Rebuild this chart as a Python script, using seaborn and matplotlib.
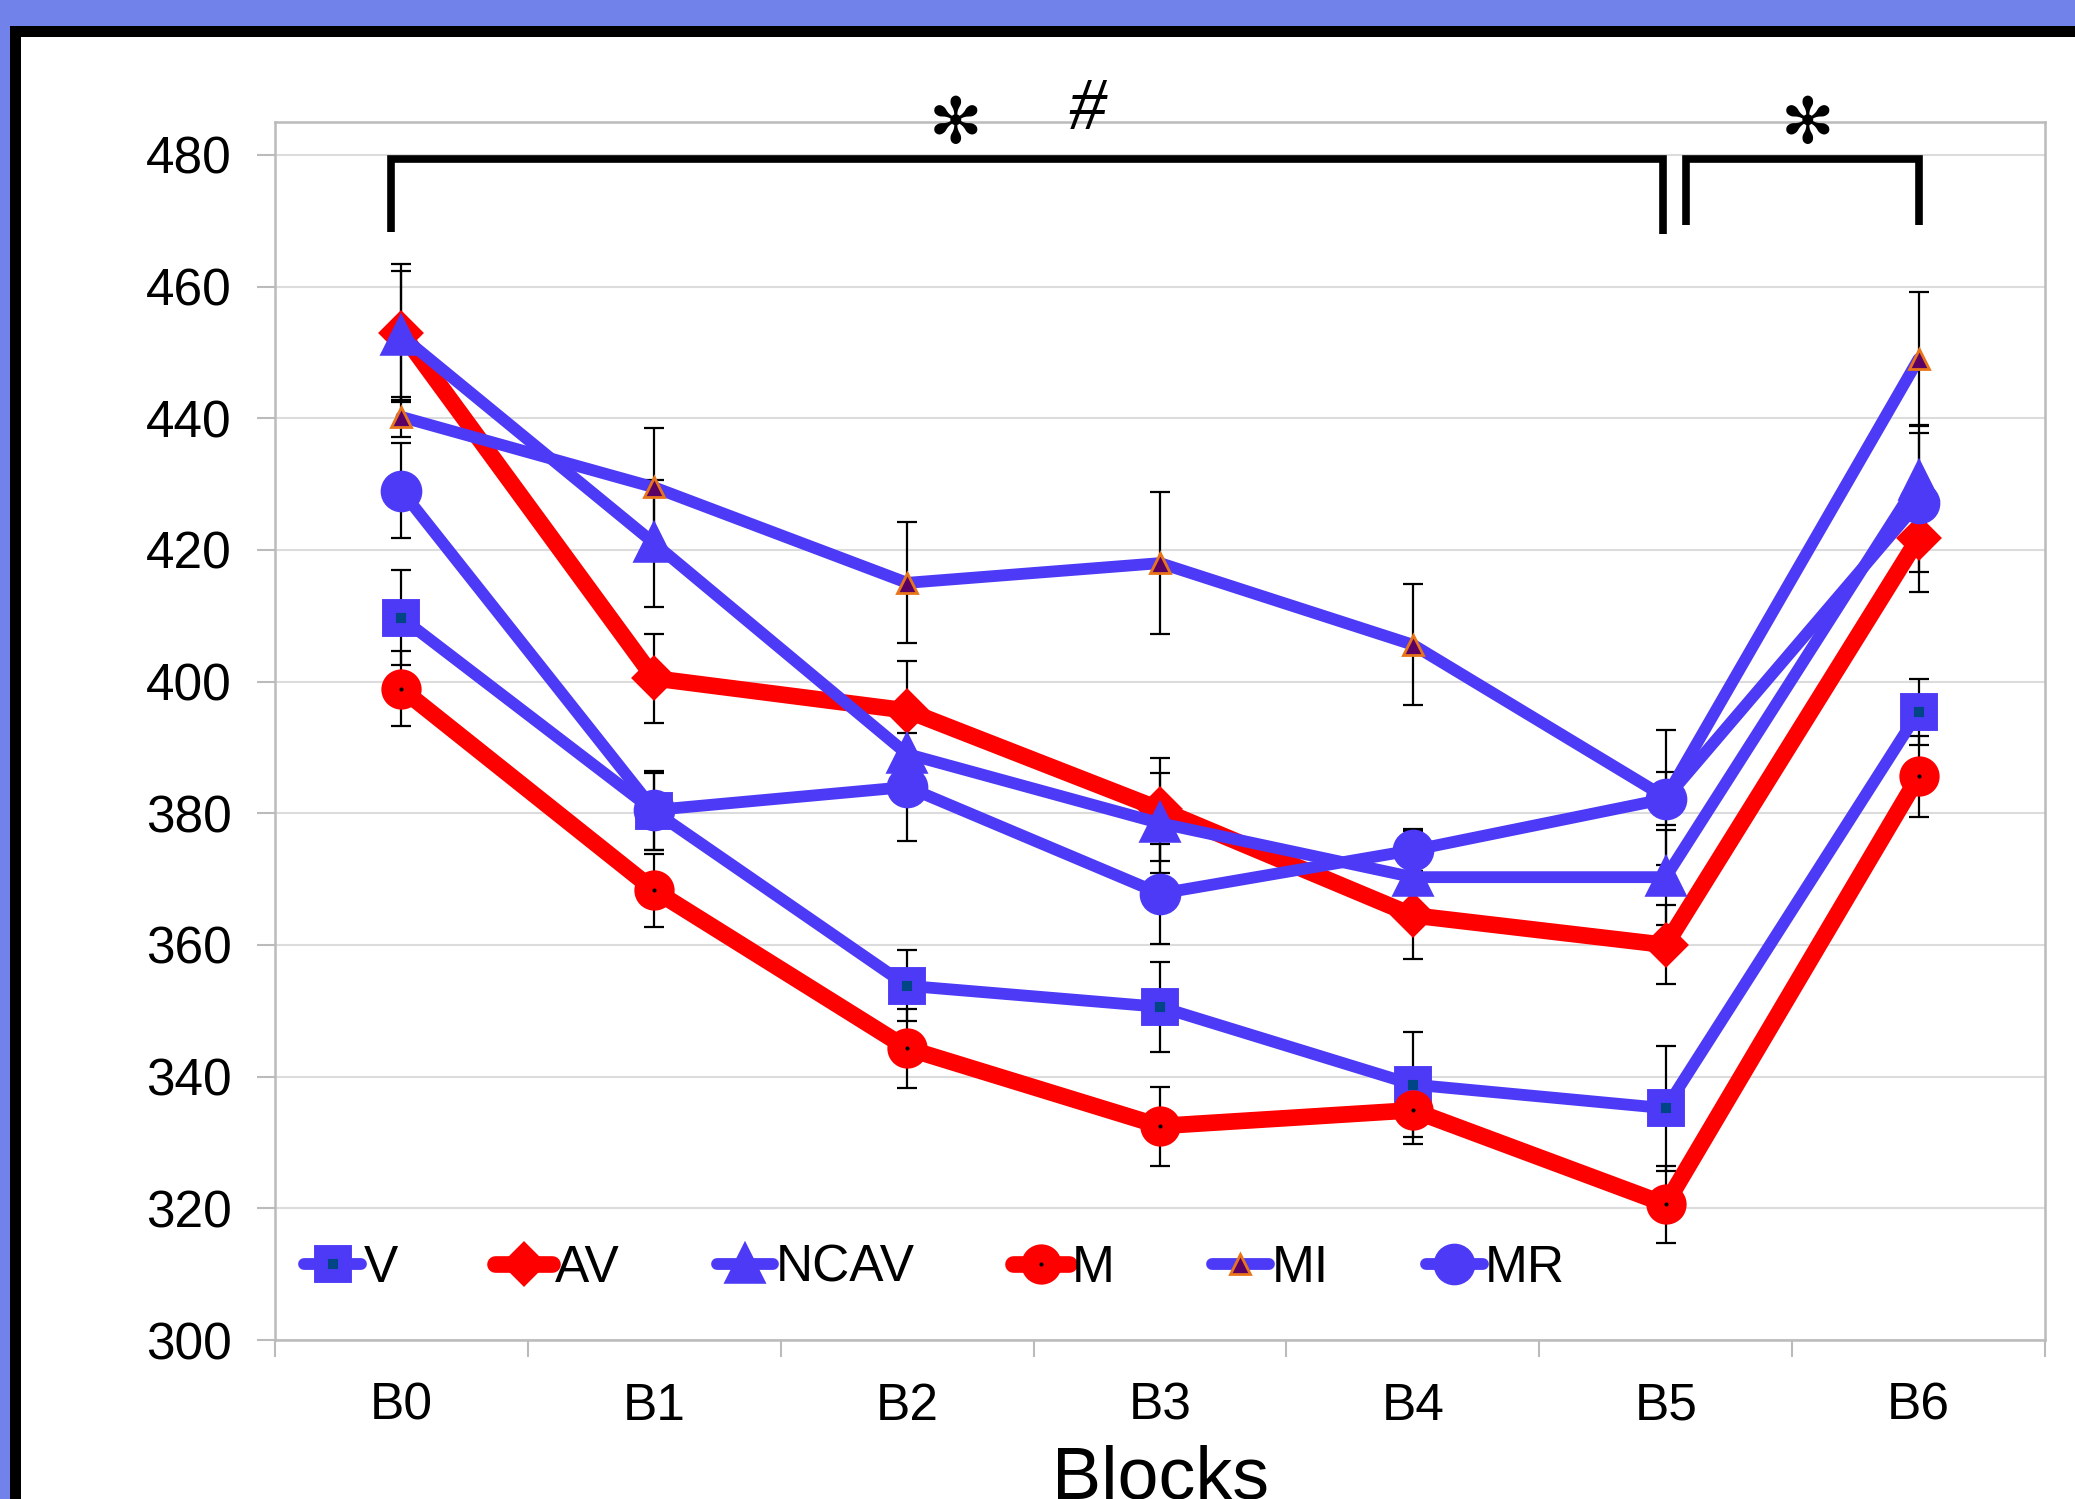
import numpy as np
import pandas as pd
import matplotlib
matplotlib.use("Agg")
import matplotlib.pyplot as plt
from matplotlib.patches import Rectangle
import seaborn as sns

# Data
blocks = ["B0", "B1", "B2", "B3", "B4", "B5", "B6"]

v_mean = [409.7, 380.3, 353.8, 350.6, 338.8, 335.2, 395.4]
v_err = [7.2, 5.8, 5.4, 6.8, 8.0, 9.5, 5.0]
av_mean = [453.0, 400.5, 395.6, 380.6, 364.5, 360.0, 421.8]
av_err = [10.5, 6.8, 7.5, 7.8, 6.7, 6.0, 8.2]
ncav_mean = [452.5, 421.0, 389.0, 378.5, 370.3, 370.3, 430.5]
ncav_err = [9.8, 9.6, 7.3, 7.6, 7.0, 7.2, 8.5]
m_mean = [398.9, 368.3, 344.3, 332.5, 334.9, 320.6, 385.6]
m_err = [5.7, 5.5, 6.0, 6.0, 5.1, 5.8, 6.2]
mi_mean = [440.2, 429.5, 415.0, 418.0, 405.6, 382.4, 449.0]
mi_err = [3.0, 9.0, 9.2, 10.8, 9.2, 10.2, 10.2]
mr_mean = [429.0, 380.5, 384.0, 367.8, 374.4, 382.2, 427.2]
mr_err = [7.2, 6.0, 8.2, 7.6, 3.2, 4.0, 10.5]

BLUE = "#4D3AF6"
RED = "#FF0000"

sns.set_style("white")
plt.rcParams["font.family"] = ["Liberation Sans", "DejaVu Sans"]
plt.rcParams["text.color"] = "black"
plt.rcParams["axes.labelcolor"] = "black"
plt.rcParams["xtick.labelcolor"] = "black"
plt.rcParams["ytick.labelcolor"] = "black"

fig = plt.figure(figsize=(20.75, 14.99), dpi=100)
fig.patch.set_facecolor("#7182EB")

# white panel with thick black border
fig.add_artist(Rectangle((10 / 2075, -0.05), 1.1, 1 - 26 / 1499 + 0.05,
                         transform=fig.transFigure, facecolor="black", edgecolor="none", zorder=0))
fig.add_artist(Rectangle((21 / 2075, -0.05), 1.1, 1 - 37 / 1499 + 0.05,
                         transform=fig.transFigure, facecolor="white", edgecolor="none", zorder=0))

ax = fig.add_axes([275 / 2075, 159 / 1499, 1770 / 2075, 1218 / 1499])
ax.set_facecolor("white")

x = np.arange(len(blocks))

series = [
    ("V", v_mean, v_err, dict(color=BLUE, lw=8.5, marker="s", ms=17, mfc="#004586", mec=BLUE, mew=10)),
    ("AV", av_mean, av_err, dict(color=RED, lw=12, marker="D", ms=19, mfc=RED, mec=RED, mew=4)),
    ("NCAV", ncav_mean, ncav_err, dict(color=BLUE, lw=8.5, marker="^", ms=24, mfc=BLUE, mec=BLUE, mew=4)),
    ("M", m_mean, m_err, dict(color=RED, lw=12, marker="o", ms=16, mfc="black", mec=RED, mew=13)),
    ("MI", mi_mean, mi_err, dict(color=BLUE, lw=8.5, marker="^", ms=15, mfc="#5B0064", mec="#E8751A", mew=2)),
    ("MR", mr_mean, mr_err, dict(color=BLUE, lw=8.5, marker="o", ms=29, mfc=BLUE, mec=BLUE, mew=1)),
]

# error bars behind the lines
for name, mean, err, st in series:
    ax.errorbar(x, mean, yerr=err, fmt="none", ecolor="black", elinewidth=1.6,
                capsize=7, capthick=1.6, zorder=2)

for i, (name, mean, err, st) in enumerate(series):
    df = pd.DataFrame({"block": x, "rt": mean})
    sns.lineplot(data=df, x="block", y="rt", ax=ax, label=name, zorder=3 + i, **st)

ax.set_xlim(-0.5, 6.5)
ax.set_ylim(300, 485)
ax.set_yticks(np.arange(300, 481, 20))
ax.set_xticks(x)
ax.set_xticklabels(blocks)
ax.set_xticks(np.arange(-0.5, 7, 1), minor=True)

ax.yaxis.grid(True, color="#DCDCDC", lw=1.5)
ax.xaxis.grid(False)
ax.set_axisbelow(True)
for s in ax.spines.values():
    s.set_color("#BBBBBB")
    s.set_linewidth(1.8)

ax.tick_params(axis="y", which="major", length=13, width=1.5, color="#BBBBBB",
               labelsize=37, pad=18, left=True)
ax.tick_params(axis="x", which="major", length=0, labelsize=37, pad=30)
ax.tick_params(axis="x", which="minor", length=12, width=1.5, color="#BBBBBB", bottom=True)

ax.set_xlabel("Blocks", fontsize=53, labelpad=10)
ax.set_ylabel("RT mean", fontsize=53)
ax.yaxis.set_label_coords(-0.16, 0.476)

# significance brackets
bk = dict(color="black", lw=5.5, solid_capstyle="butt", solid_joinstyle="miter", clip_on=False, zorder=10)
ax.plot([-0.04, -0.04, 4.99, 4.99], [468.3, 479.4, 479.4, 468.0], **bk)
ax.plot([5.08, 5.08, 6.0, 6.0], [469.3, 479.4, 479.4, 469.3], **bk)
ax.text(2.19, 484.6, "\u273B", fontsize=46, ha="center", va="center", family="DejaVu Sans", clip_on=False)
ax.text(2.71, 486.6, "#", fontsize=54, ha="center", va="center", family="Liberation Serif",
        style="italic", clip_on=False)
ax.text(5.56, 484.6, "\u273B", fontsize=46, ha="center", va="center", family="DejaVu Sans", clip_on=False)

leg = ax.legend(loc="center left", bbox_to_anchor=(0.005, 0.059), ncol=6, frameon=False,
                fontsize=37, handlelength=1.1, handletextpad=0.05, columnspacing=1.9,
                borderaxespad=0)

fig.savefig("out.png", dpi=100, facecolor=fig.get_facecolor())
